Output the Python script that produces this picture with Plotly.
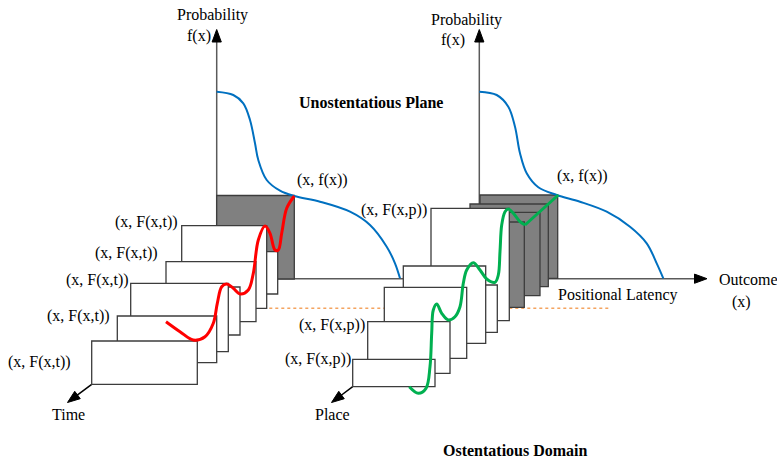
import math
import plotly.graph_objects as go

W, H = 777, 462

# ---------------- data (diagram coordinates) ----------------
# blue probability density curves f(x)
blue_left_x = [216.7, 233.3, 243.3, 250, 255, 258.3, 266.7, 280, 294.3, 320, 350, 370, 386.7, 395, 400]
blue_left_y = [91.7, 95, 103.3, 120, 143.3, 160, 180, 190.7, 196, 201.7, 211.7, 225, 246.7, 263.3, 278.3]
blue_right_x = [479.3, 496.7, 508.3, 515, 520, 526.7, 538.3, 556.7, 580, 606.7, 630, 646.7, 656.7, 663.3]
blue_right_y = [91.7, 95, 106.7, 126.7, 153.3, 173.3, 187.3, 195, 201.7, 211.7, 226.7, 243.3, 263.3, 278.3]

# red F(x,t) path over the time cards
red_x = [166, 180, 193.3, 205, 213.3, 217.3, 221.7, 226.7, 233, 240, 248.3, 253.3, 258.3, 265, 270, 275, 278.3, 281.7, 286.7, 294.3]
red_y = [321.7, 331.7, 340, 336.7, 323.3, 303.3, 286.7, 284, 288, 294, 290, 273.3, 240, 226, 233.3, 250, 250, 233.3, 208.3, 196]

# green F(x,p) path over the place cards
green_x = [409.3, 418.3, 426, 430, 431.7, 433.3, 436.7, 441.7, 448.3, 455, 460, 463.3, 466.7, 473.3, 480, 486.7, 495, 498.3, 500, 501.7, 505, 508.3, 513.3, 520, 525]
green_y = [386.7, 393.3, 388.3, 366.7, 333.3, 310, 304, 313.3, 320, 316.7, 306.7, 283.3, 270, 262.7, 270, 279, 282.3, 275, 251.7, 225, 211.7, 209, 213.3, 221.7, 225]
green_tail_x = [525, 558.3]
green_tail_y = [225, 195]

# cards (x0, x1, y0, y1), back to front
left_gray_box = [(216.7, 294.3, 195.5, 279)]
time_cards = [(200, 277.7, 251.7, 294), (181.7, 266.7, 225.7, 308.3), (166, 256, 261.7, 321.7),
              (150, 240, 287, 335), (130.7, 228.3, 283.3, 351.7), (117.3, 216.7, 316, 362.7),
              (91.7, 197.3, 341, 384.3)]
place_gray_cards = [(480, 557.7, 195, 278.3), (470, 548.3, 204, 286.7), (460, 540, 212.3, 295.7),
                    (450, 524.3, 222, 307.3)]
place_cards = [(431, 509.3, 208.3, 320.7), (420, 497.3, 285, 332.3), (403.3, 485.7, 266, 343.3),
               (384.3, 466.7, 287.3, 358.3), (367.7, 450, 321.7, 373.3), (352.7, 435, 359.3, 386.7)]

# text labels (text, x, y, anchor, bold)
labels = [
    ("Probability", 212, 15, "center", False),
    ("f(x)", 199, 36, "center", False),
    ("Probability", 466, 20, "center", False),
    ("f(x)", 453, 40, "center", False),
    ("Unostentatious Plane", 371, 102, "center", True),
    ("(x, f(x))", 322.5, 180, "center", False),
    ("(x, f(x))", 582, 176, "center", False),
    ("(x, F(x,p))", 393.7, 210, "center", False),
    ("(x, F(x,p))", 331.7, 325, "center", False),
    ("(x, F(x,p))", 318.3, 359.3, "center", False),
    ("(x, F(x,t))", 146, 221.7, "center", False),
    ("(x, F(x,t))", 126, 253.3, "center", False),
    ("(x, F(x,t))", 97, 280, "center", False),
    ("(x, F(x,t))", 78, 316, "center", False),
    ("(x, F(x,t))", 39, 361.7, "center", False),
    ("Positional Latency", 617.5, 295, "center", False),
    ("Outcome", 716.7, 279.3, "left", False),
    ("(x)", 741, 301.7, "center", False),
    ("Time", 68.3, 414.3, "center", False),
    ("Place", 332.3, 414.3, "center", False),
    ("Ostentatious Domain", 515, 450.7, "center", True),
]

# axes / arrows: (x_start, y_start, x_tip, y_tip)
arrows = [(216.7, 279, 216.7, 29.5), (479.3, 278.3, 479.3, 29.5), (216.7, 278.7, 707, 278.7),
          (91.7, 384.3, 67.5, 402.5), (352.7, 386.7, 331.5, 402.5)]
latency_line = (263.3, 610.7, 308.3)

# ---------------- figure ----------------
AX = "#5a5a5a"
EDGE = "#3c3c3c"
shapes = []

def head(xs, ys, xt, yt, L=12.5, w=4.6):
    dx, dy = xt - xs, yt - ys
    n = math.hypot(dx, dy)
    ux, uy = dx / n, dy / n
    bx, by = xt - ux * L, yt - uy * L
    px, py = -uy * w, ux * w
    return (f"M {xt},{yt} L {bx+px},{by+py} L {bx-px},{by-py} Z", bx + ux * 2, by + uy * 2)

heads = []
for (xs, ys, xt, yt) in arrows:
    p, ex, ey = head(xs, ys, xt, yt)
    shapes.append(dict(type="line", x0=xs, y0=ys, x1=ex, y1=ey, line=dict(color=AX if ys == yt or xs == xt else "black", width=1.5), layer="below"))
    heads.append(p)

x0l, x1l, yl = latency_line
shapes.append(dict(type="line", x0=x0l, x1=x1l, y0=yl, y1=yl, line=dict(color="#f4a460", width=1.5, dash="dot"), layer="below"))

def rect(b, fill):
    shapes.append(dict(type="rect", x0=b[0], x1=b[1], y0=b[2], y1=b[3], fillcolor=fill,
                       line=dict(color=EDGE, width=1.3), layer="below"))

for b in left_gray_box:
    rect(b, "#808080")
for b in place_gray_cards:
    rect(b, "#808080")
for b in time_cards:
    rect(b, "white")
for b in place_cards:
    rect(b, "white")

for p in heads:
    shapes.append(dict(type="path", path=p, fillcolor="black", line=dict(color="black", width=1), layer="above"))

fig = go.Figure()
fig.add_trace(go.Scatter(x=blue_left_x, y=blue_left_y, mode="lines", line=dict(color="#0070c0", width=2, shape="spline"), hoverinfo="skip"))
fig.add_trace(go.Scatter(x=blue_right_x, y=blue_right_y, mode="lines", line=dict(color="#0070c0", width=2, shape="spline"), hoverinfo="skip"))
fig.add_trace(go.Scatter(x=red_x, y=red_y, mode="lines", line=dict(color="#ff0000", width=3, shape="spline"), hoverinfo="skip"))
fig.add_trace(go.Scatter(x=green_x, y=green_y, mode="lines", line=dict(color="#00b050", width=3, shape="spline"), hoverinfo="skip"))
fig.add_trace(go.Scatter(x=green_tail_x, y=green_tail_y, mode="lines", line=dict(color="#00b050", width=3), hoverinfo="skip"))

annotations = []
for (t, x, y, anc, bold) in labels:
    annotations.append(dict(text=f"<b>{t}</b>" if bold else t, x=x, y=y, xref="x", yref="y",
                            xanchor=anc, yanchor="middle", showarrow=False,
                            font=dict(family="Liberation Serif, Times New Roman, serif", size=16, color="black")))

fig.update_layout(
    width=W, height=H, margin=dict(l=0, r=0, t=0, b=0),
    paper_bgcolor="white", plot_bgcolor="white", showlegend=False,
    xaxis=dict(range=[0, W], visible=False, fixedrange=True),
    yaxis=dict(range=[H, 0], visible=False, fixedrange=True),
    shapes=shapes, annotations=annotations,
)
fig.write_html("out.html", config={"displayModeBar": False},
               post_script="document.body.style.margin='0';document.body.style.overflow='hidden';")
